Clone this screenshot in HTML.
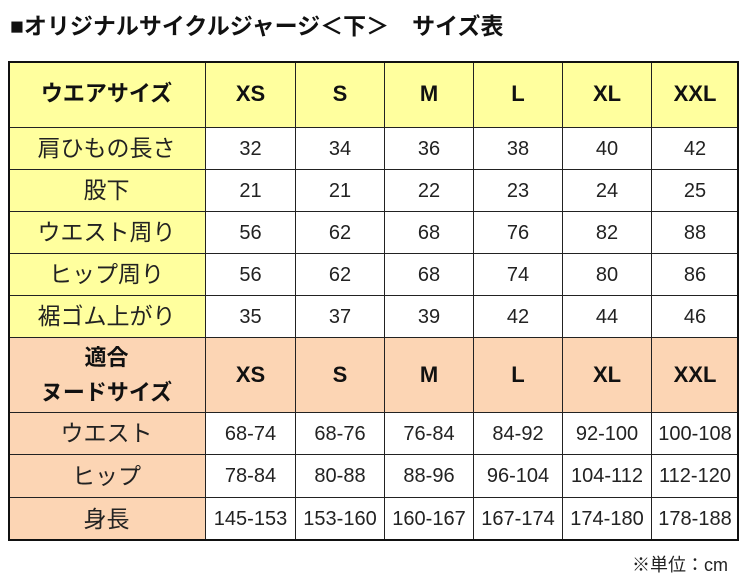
<!DOCTYPE html>
<html><head><meta charset="utf-8"><style>
body{margin:0;width:746px;height:582px;background:#fff;position:relative;overflow:hidden;font-family:"Liberation Sans","Noto Sans CJK JP",sans-serif;color:#222}
.t{position:absolute;left:10px;top:7px;font-size:23px;font-weight:bold;color:#111;white-space:pre}
.c{position:absolute;box-sizing:border-box;border-right:1px solid #222;border-bottom:1px solid #222;display:flex;align-items:center;justify-content:center;text-align:center;font-size:20px;line-height:1.6}
.f{font-size:23px}
.b{font-weight:bold;font-size:22px;color:#111}
.y{background:#FFFF9E}.p{background:#FCD5B4}
.frame{position:absolute;left:8px;top:61px;width:731px;height:480px;box-sizing:border-box;border:2px solid #111}
.u{position:absolute;right:18px;top:551px;font-size:18px}
</style></head><body>
<div class="t">■オリジナルサイクルジャージ＜下＞　サイズ表</div>
<div id="tb"></div>
<div class="frame"></div>
<div class="u">※単位：cm</div>
<script>
var xs=[8,206,296,385,474,563,652,739],ys=[61,128,170,212,254,296,338,413,455,498,541];
var rows=[
["ウエアサイズ","XS","S","M","L","XL","XXL"],
["肩ひもの長さ","32","34","36","38","40","42"],
["股下","21","21","22","23","24","25"],
["ウエスト周り","56","62","68","76","82","88"],
["ヒップ周り","56","62","68","74","80","86"],
["裾ゴム上がり","35","37","39","42","44","46"],
["適合<br>ヌードサイズ","XS","S","M","L","XL","XXL"],
["ウエスト","68-74","68-76","76-84","84-92","92-100","100-108"],
["ヒップ","78-84","80-88","88-96","96-104","104-112","112-120"],
["身長","145-153","153-160","160-167","167-174","174-180","178-188"]];
var h="";
rows.forEach(function(r,i){r.forEach(function(v,j){
var hdr=(i==0||i==6),bg=i<6?"y":"p",cls="c";
if(j==0||hdr)cls+=" "+bg;if(hdr)cls+=" b";else if(j==0)cls+=" f";
h+='<div class="'+cls+'" style="left:'+xs[j]+'px;top:'+ys[i]+'px;width:'+(xs[j+1]-xs[j])+'px;height:'+(ys[i+1]-ys[i])+'px">'+v+'</div>';});});
document.getElementById("tb").innerHTML=h;
</script>
</body></html>
